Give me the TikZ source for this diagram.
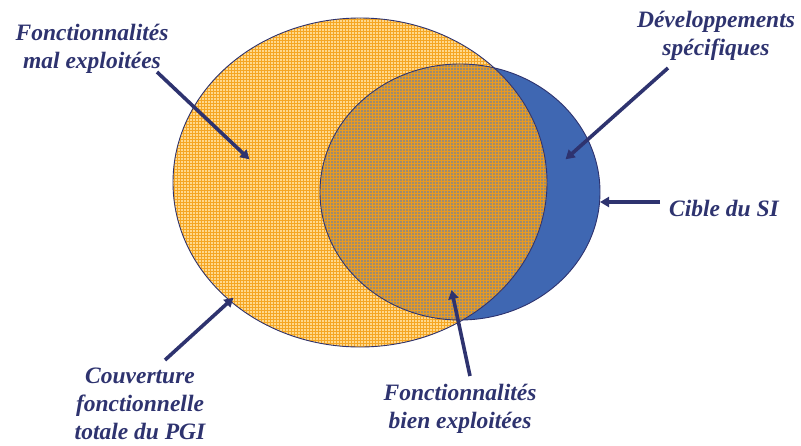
\documentclass[tikz,border=0pt]{standalone}
\usepackage{fontspec}
\setmainfont{Liberation Serif}
\usetikzlibrary{arrows.meta,patterns}
\definecolor{navy}{HTML}{2E336F}
\definecolor{pgilight}{HTML}{FFD98C}
\definecolor{pgigrid}{HTML}{F5A623}
\definecolor{sicolor}{HTML}{3F67B2}
\definecolor{bothbase}{HTML}{9C8C70}
\definecolor{bothgrid}{HTML}{E89A22}
\tikzset{
  label text/.style={text=navy, font=\fontsize{23.5}{28}\selectfont\bfseries\itshape, align=center, inner sep=0pt},
  pointer/.style={draw=navy, line width=3.6pt, -{Triangle[length=9pt,width=10pt]}, shorten >=-2pt},
  outline/.style={draw=navy, line width=0.9pt},
}
\begin{document}
\begin{tikzpicture}[x=1pt,y=-1pt]
\useasboundingbox (0,0) rectangle (801,445);

% target of the information system (blue ellipse, behind)
\fill[sicolor] (460,192) ellipse [x radius=140, y radius=128];
% full functional coverage of the ERP (orange ellipse)
\fill[pgilight] (360,182.5) ellipse [x radius=187, y radius=164.5];
\fill[pattern=grid, pattern color=pgigrid] (360,182.5) ellipse [x radius=187, y radius=164.5];
% overlap: well-used functionalities
\begin{scope}
  \clip (360,182.5) ellipse [x radius=187, y radius=164.5];
  \fill[bothbase] (460,192) ellipse [x radius=140, y radius=128];
  \fill[pattern=grid, pattern color=bothgrid] (460,192) ellipse [x radius=140, y radius=128];
\end{scope}
\draw[outline] (460,192) ellipse [x radius=140, y radius=128];
\draw[outline] (360,182.5) ellipse [x radius=187, y radius=164.5];

% labels
\node[label text] (mal) at (92,49) {Fonctionnalités\\mal exploitées};
\node[label text] (dev) at (716,36) {Développements\\spécifiques};
\node[label text] (cible) at (724,208) {Cible du SI};
\node[label text] (couv) at (140,404) {Couverture\\fonctionnelle\\totale du PGI};
\node[label text] (bien) at (460,409) {Fonctionnalités\\bien exploitées};

% arrow ends
\coordinate (malA) at (157,72);   \coordinate (malB) at (248,158);
\coordinate (devA) at (668,68);   \coordinate (devB) at (567,158);
\coordinate (cibA) at (660,202);  \coordinate (cibB) at (602,202);
\coordinate (couA) at (165,360);  \coordinate (couB) at (232,299);
\coordinate (bieA) at (470,376);  \coordinate (bieB) at (452,292);

\draw[pointer] (malA) -- (malB);
\draw[pointer] (devA) -- (devB);
\draw[pointer] (cibA) -- (cibB);
\draw[pointer] (couA) -- (couB);
\draw[pointer] (bieA) -- (bieB);
\end{tikzpicture}
\end{document}
